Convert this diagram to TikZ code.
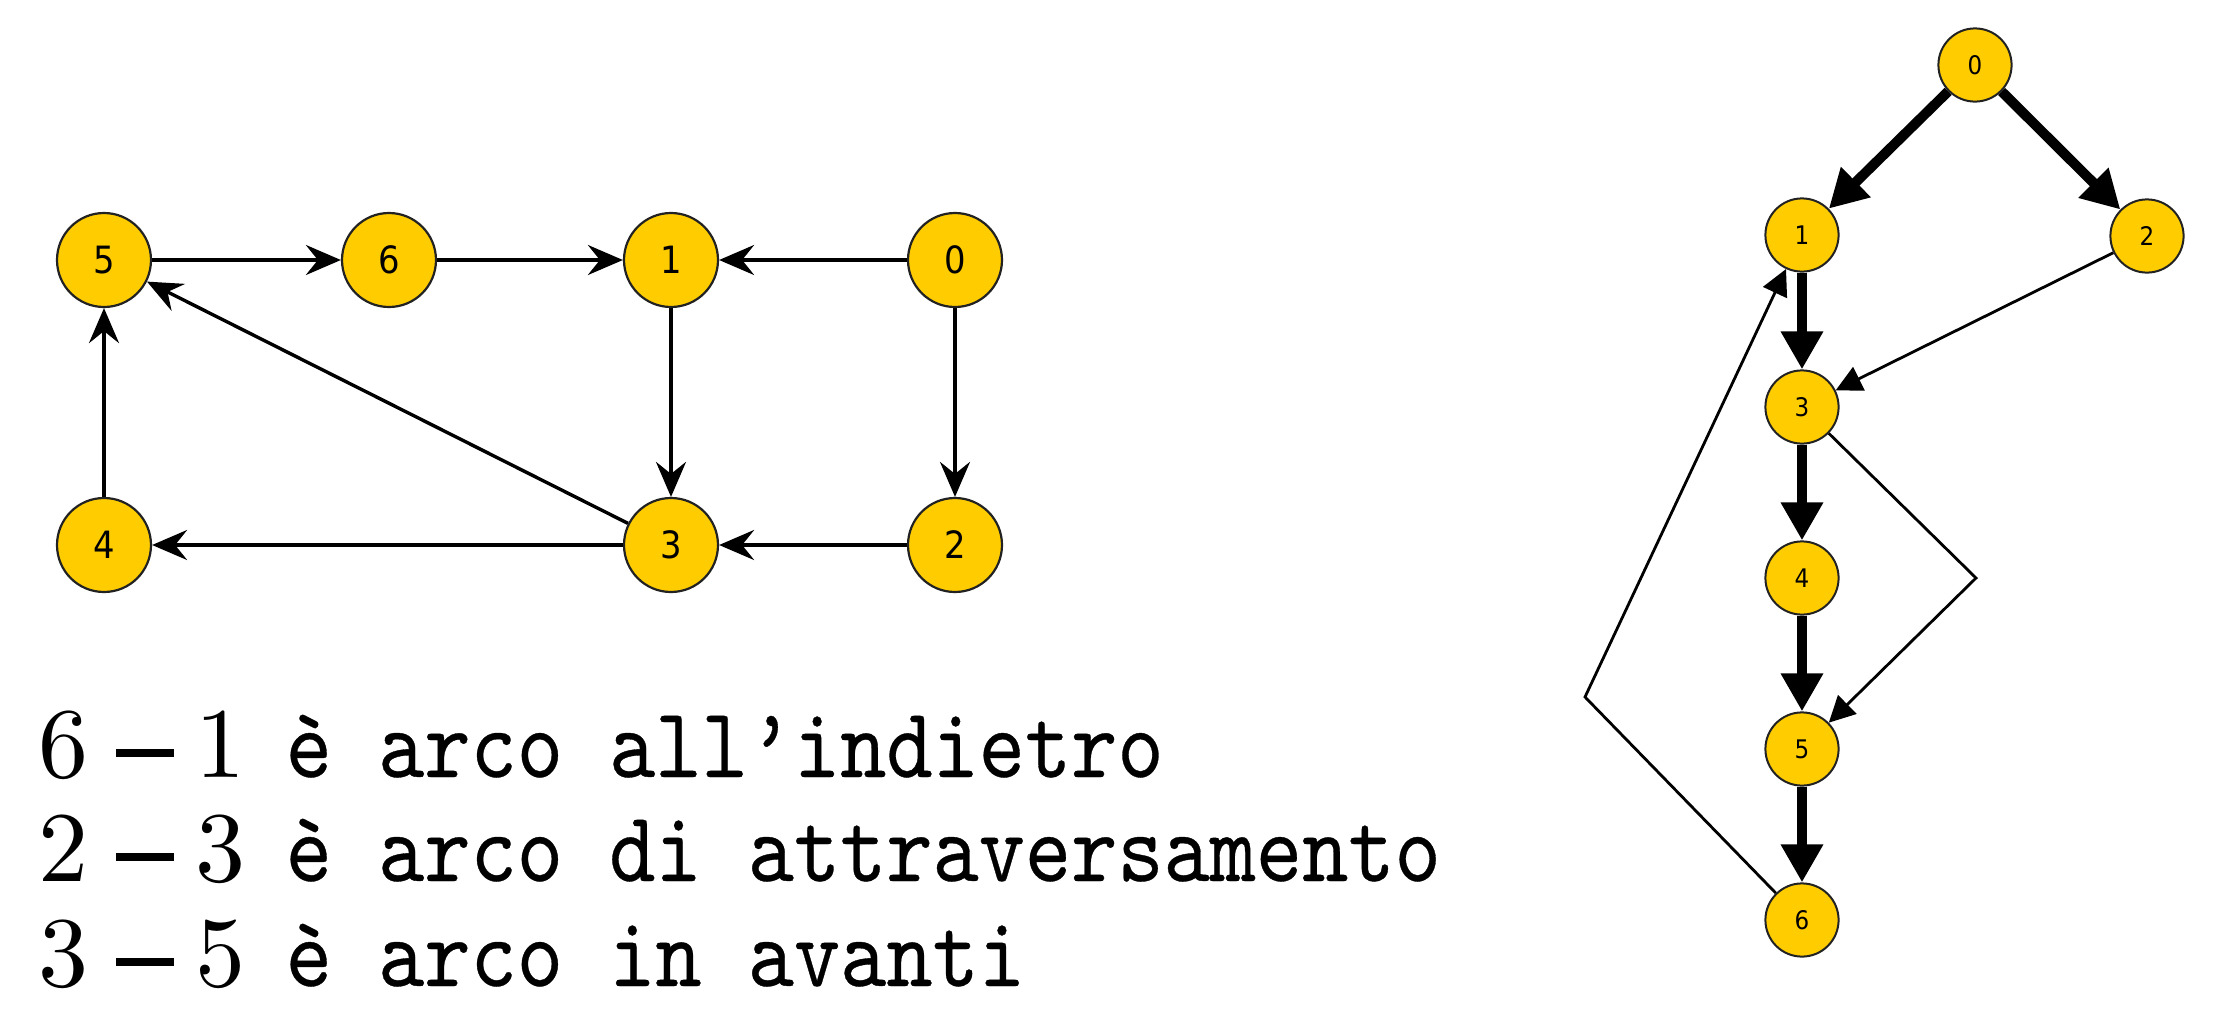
\documentclass[tikz,border=0pt]{standalone}
\usepackage{fontspec}
\usetikzlibrary{arrows.meta}
\newfontfamily\nodefont{DejaVu Sans Condensed}
\newfontfamily\digitfont{lmroman10-regular.otf}
\newfontfamily\ttx[FakeBold=0.35]{lmmono10-regular.otf}
\definecolor{nodeyellow}{HTML}{FFCC00}
\definecolor{nodeborder}{HTML}{222222}
\newcommand{\edgetext}[3]{{\digitfont\fontsize{25}{30}\selectfont #1\hspace{0.27em}\rule[0.2em]{0.58em}{0.08em}\hspace{0.22em}#2\hspace{0.4em}\scalebox{0.88}[1]{\ttx\fontsize{25}{30}\selectfont #3}}}
\begin{document}
\begin{tikzpicture}[x=0.25pt,y=-0.25pt,
  bignode/.style={circle,draw=nodeborder,line width=0.55pt,fill=nodeyellow,minimum size=23.5pt,inner sep=0pt,font=\nodefont\fontsize{9.4}{10}\selectfont},
  smallnode/.style={circle,draw=nodeborder,line width=0.5pt,fill=nodeyellow,minimum size=18.3pt,inner sep=0pt,font=\nodefont\fontsize{6.4}{7}\selectfont},
  leftedge/.style={line width=0.85pt,-{Stealth[length=8.75pt,width=7.5pt,inset=3pt]}},
  treeedge/.style={line width=2.5pt,-{Triangle[length=9.5pt,width=10pt]}},
  thinedge/.style={line width=0.7pt,-{Triangle[length=6.5pt,width=6.5pt]}},
  textline/.style={anchor=base west,inner sep=0pt}
]
\useasboundingbox (0,0) rectangle (2240,1018);
% left graph
\node[bignode] (n5) at (104,260) {5};
\node[bignode] (n6) at (389,260) {6};
\node[bignode] (n1) at (671,260) {1};
\node[bignode] (n0) at (955,260) {0};
\node[bignode] (n4) at (104,545) {4};
\node[bignode] (n3) at (671,545) {3};
\node[bignode] (n2) at (955,545) {2};
\draw[leftedge] (n5) -- (n6);
\draw[leftedge] (n6) -- (n1);
\draw[leftedge] (n0) -- (n1);
\draw[leftedge] (n1) -- (n3);
\draw[leftedge] (n0) -- (n2);
\draw[leftedge] (n2) -- (n3);
\draw[leftedge] (n3) -- (n4);
\draw[leftedge] (n4) -- (n5);
\draw[leftedge] (n3) -- (n5);
% text
\node[textline] (t1) at (38,777) {\edgetext{6}{1}{è arco all’indietro}};
\node[textline] (t2) at (38,881) {\edgetext{2}{3}{è arco di attraversamento}};
\node[textline] (t3) at (38,986) {\edgetext{3}{5}{è arco in avanti}};
% right graph
\node[smallnode] (r0) at (1975,65) {0};
\node[smallnode] (r1) at (1802,235) {1};
\node[smallnode] (r2) at (2147,236) {2};
\node[smallnode] (r3) at (1802,407) {3};
\node[smallnode] (r4) at (1802,578) {4};
\node[smallnode] (r5) at (1802,749) {5};
\node[smallnode] (r6) at (1802,920) {6};
\coordinate (b35) at (1976,578);
\coordinate (b61) at (1585,697);
\draw[treeedge] (r0) -- (r1);
\draw[treeedge] (r0) -- (r2);
\draw[treeedge] (r1) -- (r3);
\draw[treeedge] (r3) -- (r4);
\draw[treeedge] (r4) -- (r5);
\draw[treeedge] (r5) -- (r6);
\draw[thinedge] (r2) -- (r3);
\draw[thinedge] (r3) -- (b35) -- (r5);
\draw[thinedge] (r6) -- (b61) -- (r1);
\end{tikzpicture}
\end{document}
